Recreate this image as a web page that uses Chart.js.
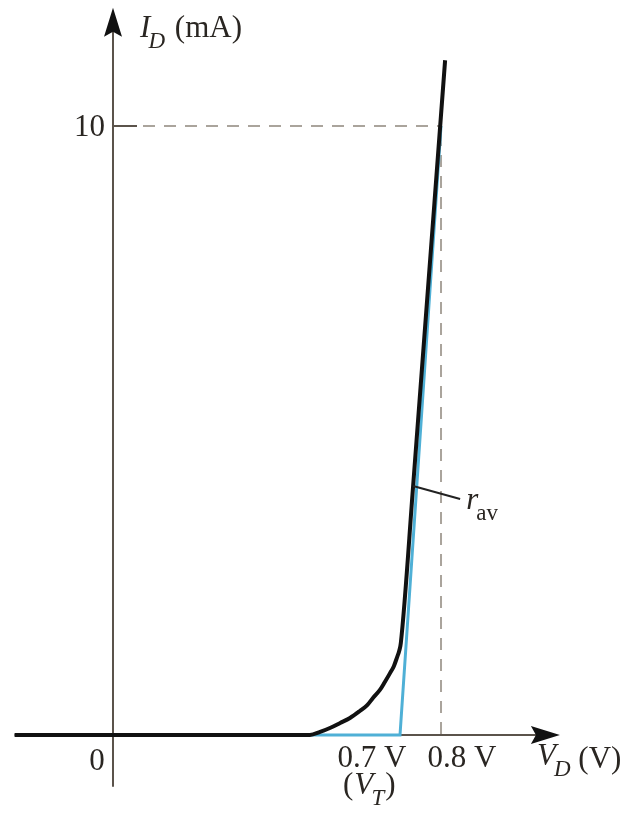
<!DOCTYPE html>
<html>
<head>
<meta charset="utf-8">
<title>Diode characteristic with piecewise-linear model</title>
<script src="https://cdn.jsdelivr.net/npm/chart.js@4/dist/chart.umd.min.js"></script>
<style>
  body { margin: 0; background: #fff; }
  canvas { display: block; }
</style>
</head>
<body>
<canvas id="diode" width="634" height="822"></canvas>
<script>
const diodeV = [-0.24, 0.48, 0.505, 0.529, 0.554, 0.578, 0.602, 0.62, 0.634, 0.651, 0.663, 0.676, 0.685, 0.693, 0.698, 0.702, 0.732, 0.81];
const diodeI = [0, 0, 0.05, 0.115, 0.197, 0.28, 0.394, 0.49, 0.608, 0.74, 0.87, 1.02, 1.13, 1.28, 1.38, 1.51, 4.09, 11.08];

// piecewise-linear model (blue)
const modelV = [0, 0.7, 0.8];
const modelI = [0, 0, 10];

// tick labels
const xTickValues = [0.7, 0.8];
const xTickLabels = ["0.7 V", "0.8 V"];
const yTickValues = [10];
const yTickLabels = ["10"];

// where the r_av pointer touches the curve
const rAvAt = [0.732, 4.09];

// axis extents (data units)
const xAxisFrom = -0.24, xAxisTo = 1.09;
const yAxisFrom = -0.85, yAxisTo = 11.94;

const toPoints = (xs, ys) => xs.map((v, i) => ({ x: v, y: ys[i] }));

const SERIF = '"Liberation Serif", "DejaVu Serif", serif';
const TEXT = "#2a2622";
const FS = 31;

// draws "main" followed by a smaller, lowered subscript
function drawSub(ctx, main, sub, x, y, size, italicMain, italicSub) {
    ctx.font = (italicMain ? "italic " : "") + size + "px " + SERIF;
    ctx.fillText(main, x, y);
    const w = ctx.measureText(main).width;
    ctx.font = (italicSub ? "italic " : "") + Math.round(size * 0.74) + "px " + SERIF;
    ctx.fillText(sub, x + w - size * 0.06, y + size * 0.36);
    return x + w - size * 0.06 + ctx.measureText(sub).width;
}

const diagramPlugin = {
    id: "diagram",
    beforeDatasetsDraw(chart) {
        const { ctx, scales: { x, y } } = chart;
        const x0 = x.getPixelForValue(0);
        const y0 = y.getPixelForValue(0);
        ctx.save();

        // axes
        ctx.strokeStyle = "#5b534b";
        ctx.lineWidth = 2;
        ctx.beginPath();
        ctx.moveTo(x0, y.getPixelForValue(yAxisFrom));
        ctx.lineTo(x0, y.getPixelForValue(yAxisTo) + 12);
        ctx.moveTo(x.getPixelForValue(xAxisFrom), y0);
        ctx.lineTo(x.getPixelForValue(xAxisTo) - 12, y0);
        ctx.stroke();

        // guide lines to (0.8 V, 10 mA)
        const gx = x.getPixelForValue(xTickValues[1]);
        const gy = y.getPixelForValue(yTickValues[0]);
        ctx.beginPath();
        ctx.moveTo(x0, gy);
        ctx.lineTo(x0 + 24, gy);
        ctx.stroke();
        ctx.strokeStyle = "#aaa49c";
        ctx.setLineDash([12, 9]);
        ctx.beginPath();
        ctx.moveTo(x0 + 30, gy);
        ctx.lineTo(gx, gy);
        ctx.moveTo(gx, gy + 8);
        ctx.lineTo(gx, y0);
        ctx.stroke();
        ctx.restore();
    },
    afterDatasetsDraw(chart) {
        const { ctx, scales: { x, y } } = chart;
        const x0 = x.getPixelForValue(0);
        const y0 = y.getPixelForValue(0);
        ctx.save();

        // arrowheads
        ctx.fillStyle = "#111";
        const ty = y.getPixelForValue(yAxisTo);
        ctx.beginPath();
        ctx.moveTo(x0, ty);
        ctx.lineTo(x0 + 9, ty + 29);
        ctx.lineTo(x0, ty + 24);
        ctx.lineTo(x0 - 9, ty + 29);
        ctx.closePath();
        ctx.fill();
        const tx = x.getPixelForValue(xAxisTo);
        ctx.beginPath();
        ctx.moveTo(tx, y0);
        ctx.lineTo(tx - 29, y0 - 9);
        ctx.lineTo(tx - 24, y0);
        ctx.lineTo(tx - 29, y0 + 9);
        ctx.closePath();
        ctx.fill();

        // r_av pointer
        const px = x.getPixelForValue(rAvAt[0]);
        const py = y.getPixelForValue(rAvAt[1]);
        ctx.strokeStyle = "#222";
        ctx.lineWidth = 2;
        ctx.beginPath();
        ctx.moveTo(px, py);
        ctx.lineTo(px + 47, py + 13);
        ctx.stroke();

        ctx.fillStyle = TEXT;
        ctx.textBaseline = "alphabetic";

        // r_av label
        ctx.textAlign = "left";
        drawSub(ctx, "r", "av", px + 53, py + 23, FS, true, false);

        // y tick label
        ctx.font = FS + "px " + SERIF;
        ctx.textAlign = "right";
        ctx.fillText(yTickLabels[0], x0 - 8, y.getPixelForValue(yTickValues[0]) + 10);

        // origin
        ctx.textAlign = "center";
        ctx.fillText("0", x0 - 16, y0 + 35);

        // x tick labels
        ctx.fillText(xTickLabels[0], x.getPixelForValue(xTickValues[0]) - 28, y0 + 32);
        ctx.fillText(xTickLabels[1], x.getPixelForValue(xTickValues[1]) + 21, y0 + 32);

        // (V_T)
        ctx.textAlign = "left";
        let cx = x.getPixelForValue(xTickValues[0]) - 57;
        ctx.font = FS + "px " + SERIF;
        ctx.fillText("(", cx, y0 + 59);
        cx += ctx.measureText("(").width + 1;
        cx = drawSub(ctx, "V", "T", cx, y0 + 59, FS, true, true);
        ctx.font = FS + "px " + SERIF;
        ctx.fillText(")", cx + 1, y0 + 59);

        // axis titles
        cx = drawSub(ctx, "V", "D", tx - 23, y0 + 30, FS, true, true);
        ctx.font = FS + "px " + SERIF;
        ctx.fillText(" (V)", cx, y0 + 33);

        cx = drawSub(ctx, "I", "D", x0 + 27, 37, FS, true, true);
        ctx.font = FS + "px " + SERIF;
        ctx.fillText(" (mA)", cx + 2, 37);

        ctx.restore();
    }
};

new Chart(document.getElementById("diode"), {
    type: "scatter",
    data: {
        datasets: [
            {
                label: "I_D",
                data: toPoints(diodeV, diodeI),
                showLine: true,
                borderColor: "#111111",
                borderWidth: 4,
                pointRadius: 0,
                cubicInterpolationMode: "monotone",
                fill: false,
            },
            {
                label: "model",
                data: toPoints(modelV, modelI),
                showLine: true,
                borderColor: "#4fb0d6",
                borderWidth: 3,
                pointRadius: 0,
                tension: 0,
                fill: false,
            },
        ],
    },
    options: {
        responsive: false,
        animation: false,
        devicePixelRatio: 1,
        layout: { padding: 0 },
        plugins: { legend: { display: false }, tooltip: { enabled: false } },
        scales: {
            x: { type: "linear", display: false, min: -0.2756, max: 1.2707 },
            y: { type: "linear", display: false, min: -1.4286, max: 12.069 },
        },
    },
    plugins: [diagramPlugin],
});
</script>
</body>
</html>
